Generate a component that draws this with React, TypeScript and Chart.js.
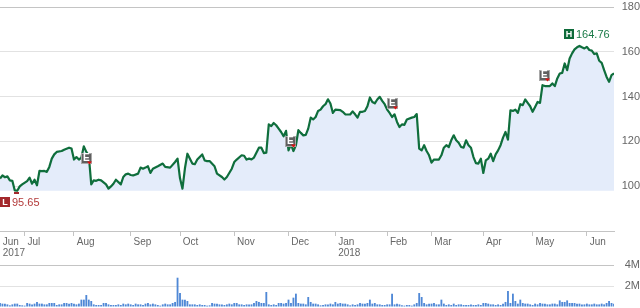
import React, { useEffect, useRef } from "react";
import { Chart, registerables } from "chart.js";

Chart.register(...registerables);

// ---- data (trading-day index, close) ----
const priceDays = [
  0, 1, 2, 3, 4, 5, 6, 7, 8, 9, 11, 12, 13, 14, 15, 16, 17, 18, 19, 20,
  21, 22, 23, 25, 26, 28, 29, 30, 31, 32, 33, 34, 35, 36, 37, 38, 39, 40, 41, 43,
  44, 45, 46, 47, 49, 50, 51, 52, 53, 54, 56, 57, 58, 59, 60, 61, 62, 64, 66, 67,
  69, 71, 72, 73, 74, 75, 76, 78, 79, 80, 82, 83, 84, 85, 87, 88, 90, 91, 92, 94,
  95, 96, 98, 99, 100, 101, 102, 103, 105, 106, 107, 108, 109, 110, 111, 112, 113, 114, 115, 116,
  117, 118, 119, 120, 121, 122, 123, 124, 125, 126, 127, 128, 129, 130, 131, 132, 133, 134, 135, 136,
  138, 139, 140, 142, 143, 144, 145, 146, 147, 148, 149, 150, 151, 152, 153, 154, 155, 156, 157, 158,
  159, 160, 161, 162, 163, 164, 165, 167, 168, 169, 170, 171, 172, 173, 174, 175, 176, 178, 179, 180,
  181, 182, 183, 184, 185, 186, 187, 188, 189, 190, 191, 192, 193, 194, 195, 196, 197, 198, 199, 200,
  201, 202, 203, 204, 205, 206, 207, 208, 209, 210, 211, 212, 213, 214, 215, 216, 217, 218, 219, 220,
  221, 222, 223, 224, 225, 226, 227, 228, 229, 230, 231, 232, 233, 234, 235, 236, 237, 238, 239, 240,
  241, 242, 243, 244, 245, 246, 247, 248, 249,
];
const priceCloses = [
  103.4, 104.8, 104.0, 104.4, 102.6, 102.4, 98.1, 98.0, 99.9, 100.8, 102.3, 103.8, 101.1, 102.9, 100.4, 106.8, 106.7, 106.8, 106.4, 108.6,
  112.3, 114.2, 115.3, 115.7, 116.3, 117.2, 116.8, 111.9, 113.0, 111.9, 112.8, 117.8, 115.3, 113.8, 100.8, 102.6, 102.4, 102.9, 102.6, 100.8,
  98.9, 99.9, 101.1, 102.9, 100.8, 104.1, 105.3, 105.6, 105.0, 104.8, 105.6, 108.3, 107.8, 108.3, 108.9, 105.9, 107.8, 108.9, 110.1, 108.6,
  108.3, 110.8, 112.3, 103.5, 98.9, 108.0, 114.5, 110.1, 109.8, 111.9, 114.2, 111.5, 111.2, 111.2, 108.9, 105.6, 104.1, 103.0, 104.1, 107.8,
  110.8, 111.9, 113.8, 113.6, 111.9, 112.3, 112.0, 112.8, 117.2, 117.2, 114.8, 115.0, 127.6, 126.8, 128.2, 127.2, 125.7, 124.2, 122.3, 124.7,
  116.0, 118.7, 115.7, 118.3, 125.0, 123.8, 122.7, 122.9, 125.7, 130.6, 129.8, 130.9, 133.6, 134.2, 135.7, 136.6, 138.8, 136.9, 132.7, 134.2,
  134.0, 133.2, 132.1, 132.0, 133.4, 132.1, 130.6, 133.2, 133.2, 133.6, 135.7, 139.6, 137.6, 137.0, 138.7, 139.9, 138.1, 136.6, 134.2, 132.7,
  130.9, 132.1, 128.7, 126.4, 127.6, 127.4, 129.8, 130.6, 130.9, 132.2, 116.8, 116.0, 118.3, 115.7, 113.8, 110.5, 111.9, 111.9, 113.8, 117.2,
  118.3, 117.5, 120.5, 122.7, 120.5, 119.4, 117.5, 117.2, 120.5, 118.3, 117.2, 113.0, 110.3, 110.1, 112.3, 105.9, 111.5, 112.3, 114.5, 111.2,
  114.2, 116.0, 118.3, 121.7, 124.2, 120.8, 133.9, 133.6, 134.2, 132.7, 136.6, 136.2, 138.7, 137.2, 135.7, 133.2, 135.4, 137.6, 137.2, 145.1,
  144.7, 144.7, 144.7, 145.9, 144.7, 148.1, 150.3, 150.6, 154.8, 151.8, 157.0, 159.3, 161.1, 162.0, 162.6, 162.0, 161.5, 162.2, 160.8, 160.5,
  159.0, 159.3, 156.0, 155.1, 151.8, 148.8, 146.6, 149.6, 150.4,
];
// daily volume, millions of shares (day index = position)
const volumes = [
  0.38, 0.32, 0.32, 0.25, 0.16, 0.25, 0.32, 0.32, 0.19, 0.16,
  0.13, 0.38, 0.32, 0.25, 0.32, 0.48, 0.32, 0.32, 0.25, 0.25,
  0.38, 0.38, 0.38, 0.19, 0.25, 0.25, 0.38, 0.38, 0.32, 0.38,
  0.32, 0.25, 0.32, 0.70, 0.70, 1.14, 0.70, 0.57, 0.25, 0.19,
  0.19, 0.19, 0.38, 0.38, 0.25, 0.19, 0.19, 0.19, 0.25, 0.19,
  0.32, 0.25, 0.32, 0.25, 0.19, 0.32, 0.25, 0.25, 0.19, 0.32,
  0.38, 0.25, 0.32, 0.25, 0.19, 0.13, 0.25, 0.32, 0.25, 0.25,
  0.38, 0.48, 2.79, 1.33, 0.70, 0.70, 0.57, 0.25, 0.25, 0.25,
  0.19, 0.25, 0.19, 0.19, 0.13, 0.16, 0.38, 0.32, 0.32, 0.25,
  0.25, 0.19, 0.25, 0.32, 0.25, 0.38, 0.38, 0.25, 0.25, 0.19,
  0.25, 0.25, 0.25, 0.38, 0.57, 0.48, 0.38, 0.38, 1.43, 0.25,
  0.19, 0.25, 0.19, 0.38, 0.38, 0.32, 0.38, 0.70, 0.38, 0.89,
  1.27, 0.38, 0.32, 0.32, 0.25, 0.95, 0.48, 0.32, 0.32, 0.25,
  0.16, 0.19, 0.25, 0.25, 0.32, 0.25, 0.48, 0.32, 0.38, 0.32,
  0.32, 0.25, 0.16, 0.25, 0.19, 0.25, 0.38, 0.32, 0.32, 0.38,
  0.70, 0.32, 0.38, 0.25, 0.25, 0.19, 0.19, 0.25, 0.25, 1.27,
  0.25, 0.32, 0.25, 0.16, 0.13, 0.19, 0.19, 0.13, 0.25, 0.38,
  1.33, 0.95, 0.38, 0.25, 0.32, 0.32, 0.38, 0.25, 0.25, 0.70,
  0.32, 0.19, 0.25, 0.19, 0.32, 0.19, 0.25, 0.25, 0.19, 0.19,
  0.19, 0.25, 0.19, 0.19, 0.25, 0.19, 0.38, 0.38, 0.32, 0.25,
  0.25, 0.19, 0.25, 0.19, 0.32, 0.48, 1.52, 0.38, 1.27, 0.57,
  0.32, 0.70, 0.38, 0.32, 0.32, 0.25, 0.19, 0.32, 0.25, 0.38,
  0.32, 0.32, 0.25, 0.25, 0.32, 0.32, 0.25, 0.63, 0.48, 0.48,
  0.63, 0.38, 0.38, 0.38, 0.32, 0.32, 0.25, 0.25, 0.32, 0.25,
  0.25, 0.32, 0.25, 0.25, 0.32, 0.25, 0.38, 0.57, 0.38, 0.32,
];
const monthTickDays = [0, 10, 30, 53, 73, 95, 117, 136, 157, 175, 196, 216, 238];
const monthLabels = [
  ["Jun", "2017"], ["Jul"], ["Aug"], ["Sep"], ["Oct"], ["Nov"], ["Dec"],
  ["Jan", "2018"], ["Feb"], ["Mar"], ["Apr"], ["May"], ["Jun"],
];
const priceAxisMin = 80;
const priceAxisMax = 180;
const priceAxisStep = 20;
const volumeAxisMax = 4;
const volumeAxisStep = 2;
const highValue = 164.76;
const highDay = 238;
const lowValue = 95.65;
const lowDay = 6;
const earningsDays = [35, 118, 159, 221];
const earningsLevels = [112.4, 119.9, 137.0, 149.5];

const FONT = '"Liberation Sans", Arial, sans-serif';
const LAST_DAY = 249;
const AXIS_W = 26;

const fitRightAxis = (scale: any) => {
  scale.width = AXIS_W;
  scale.paddingTop = 0;
  scale.paddingBottom = 0;
};

const markersPlugin = {
  id: "markers",
  afterDatasetsDraw(chart: any) {
    const ctx = chart.ctx;
    const xs = chart.scales.x;
    const ys = chart.scales.y;
    const area = chart.chartArea;
    ctx.save();
    // earnings markers
    earningsDays.forEach((d, i) => {
      const cx = xs.getPixelForValue(d);
      const cy = ys.getPixelForValue(earningsLevels[i]);
      const l = Math.round(cx - 5.5);
      const t = Math.round(cy - 5.5);
      ctx.fillStyle = "#5f5f5f";
      ctx.fillRect(l, t, 11, 11);
      ctx.strokeStyle = "#a8a8a8";
      ctx.lineWidth = 1;
      ctx.strokeRect(l + 0.5, t + 0.5, 10, 10);
      ctx.fillStyle = "#ffffff";
      ctx.font = "bold 10px " + FONT;
      ctx.textAlign = "left";
      ctx.textBaseline = "middle";
      ctx.fillText("E", l + 2, t + 5.5);
      ctx.fillStyle = "#e01010";
      ctx.beginPath();
      ctx.moveTo(l + 6, t + 8.5);
      ctx.lineTo(l + 11, t + 8.5);
      ctx.lineTo(l + 8.5, t + 11.5);
      ctx.closePath();
      ctx.fill();
    });

    const drawTag = (letter: string, value: number, day: number, dy: number, boxColor: string, textColor: string) => {
      const txt = value.toFixed(2);
      ctx.font = "11px " + FONT;
      const tw = ctx.measureText(txt).width;
      const w = 10 + 2 + tw;
      const cx = xs.getPixelForValue(day);
      let left = cx - w / 2;
      left = Math.max(area.left, Math.min(area.right - w, left));
      left = Math.round(left);
      const cy = Math.round(ys.getPixelForValue(value) + dy);
      ctx.fillStyle = boxColor;
      ctx.fillRect(left, cy - 5, 10, 10);
      ctx.fillStyle = "#ffffff";
      ctx.font = "bold 9px " + FONT;
      ctx.textAlign = "center";
      ctx.textBaseline = "middle";
      ctx.fillText(letter, left + 5, cy + 0.5);
      ctx.fillStyle = textColor;
      ctx.font = "11px " + FONT;
      ctx.textAlign = "left";
      ctx.fillText(txt, left + 12, cy + 0.5);
    };
    drawTag("H", highValue, highDay, -7, "#0e6b3a", "#1a7a47");
    drawTag("L", lowValue, lowDay, 6, "#a3282c", "#b33a3a");

    // low mark on the line
    const lowClose = Math.min(...priceCloses);
    const lx = xs.getPixelForValue(lowDay);
    const ly = ys.getPixelForValue(lowClose);
    ctx.fillStyle = "#a3282c";
    ctx.fillRect(Math.round(lx - 1), Math.round(ly + 1), 5, 2);
    ctx.restore();
  },
};

export default function App() {
  const priceRef = useRef<HTMLCanvasElement | null>(null);
  const volRef = useRef<HTMLCanvasElement | null>(null);

  useEffect(() => {
    const lowClose = Math.min(...priceCloses);
    const priceChart = new Chart(priceRef.current as HTMLCanvasElement, {
      type: "line",
      data: {
        datasets: [
          {
            data: priceDays.map((d, i) => ({ x: d, y: priceCloses[i] })),
            borderColor: "#0f6e3c",
            borderWidth: 2.2,
            backgroundColor: "rgba(228, 236, 250, 1)",
            fill: { value: lowClose },
            pointRadius: 0,
            tension: 0,
            borderJoinStyle: "round",
          } as any,
        ],
      },
      options: {
        responsive: false,
        animation: false,
        events: [],
        layout: { autoPadding: false, padding: { top: 7, left: 0, right: 0, bottom: 0 } },
        plugins: { legend: { display: false }, tooltip: { enabled: false } },
        scales: {
          x: {
            type: "linear",
            min: 0,
            max: LAST_DAY,
            offset: false,
            afterBuildTicks: (scale: any) => {
              scale.ticks = monthTickDays.map((v) => ({ value: v }));
            },
            afterFit: (scale: any) => {
              scale.height = 30;
              scale.paddingLeft = 0;
              scale.paddingRight = 0;
            },
            ticks: {
              autoSkip: false,
              maxRotation: 0,
              minRotation: 0,
              align: "start",
              padding: 1,
              color: "#666666",
              font: { family: FONT, size: 10, lineHeight: 1.1 },
              callback: (_v: any, i: number) => monthLabels[i].map((s) => " " + s),
            },
            grid: {
              display: true,
              drawOnChartArea: false,
              drawTicks: true,
              tickLength: 5,
              tickColor: (c: any) => (c.index === 0 ? "rgba(0,0,0,0)" : "#c4c4c4"),
            },
            border: { display: true, color: "#c4c4c4" },
          },
          y: {
            position: "right",
            min: priceAxisMin,
            max: priceAxisMax,
            afterFit: fitRightAxis,
            ticks: {
              stepSize: priceAxisStep,
              padding: 3,
              crossAlign: "far",
              color: "#666666",
              font: { family: FONT, size: 11 },
              callback: (v: any) => (v === priceAxisMin ? "" : String(v)),
            },
            grid: {
              drawTicks: false,
              color: (c: any) =>
                c.tick.value === priceAxisMax
                  ? "#c4c4c4"
                  : c.tick.value === priceAxisMin
                  ? "rgba(0,0,0,0)"
                  : "#e2e2e2",
            },
            border: { display: false },
          },
        },
      } as any,
      plugins: [markersPlugin],
    });

    const volChart = new Chart(volRef.current as HTMLCanvasElement, {
      type: "bar",
      data: {
        datasets: [
          {
            data: volumes.map((v, i) => ({ x: i, y: v })),
            backgroundColor: "#4f88d6",
            barPercentage: 0.75,
            categoryPercentage: 1,
            borderWidth: 0,
          } as any,
        ],
      },
      options: {
        responsive: false,
        animation: false,
        events: [],
        layout: { autoPadding: false, padding: { top: 7, left: 0, right: 0, bottom: 1 } },
        plugins: { legend: { display: false }, tooltip: { enabled: false } },
        scales: {
          x: { type: "linear", min: 0, max: LAST_DAY, offset: false, display: false },
          y: {
            position: "right",
            min: 0,
            max: volumeAxisMax,
            afterFit: fitRightAxis,
            ticks: {
              stepSize: volumeAxisStep,
              padding: 3,
              crossAlign: "far",
              color: "#666666",
              font: { family: FONT, size: 11 },
              callback: (v: any) => (v === 0 ? "" : v + "M"),
            },
            grid: {
              drawTicks: false,
              color: (c: any) =>
                c.tick.value === volumeAxisMax
                  ? "#c4c4c4"
                  : c.tick.value === 0
                  ? "rgba(0,0,0,0)"
                  : "#e2e2e2",
            },
            border: { display: false },
          },
        },
      } as any,
    });

    return () => {
      priceChart.destroy();
      volChart.destroy();
    };
  }, []);

  return (
    <div style={{ position: "absolute", left: 0, top: 0, width: 640, height: 308, background: "#ffffff", overflow: "hidden" }}>
      <canvas ref={priceRef} width={640} height={261} style={{ position: "absolute", left: 0, top: 0, width: 640, height: 261 }} />
      <canvas ref={volRef} width={640} height={50} style={{ position: "absolute", left: 0, top: 258, width: 640, height: 50 }} />
    </div>
  );
}
